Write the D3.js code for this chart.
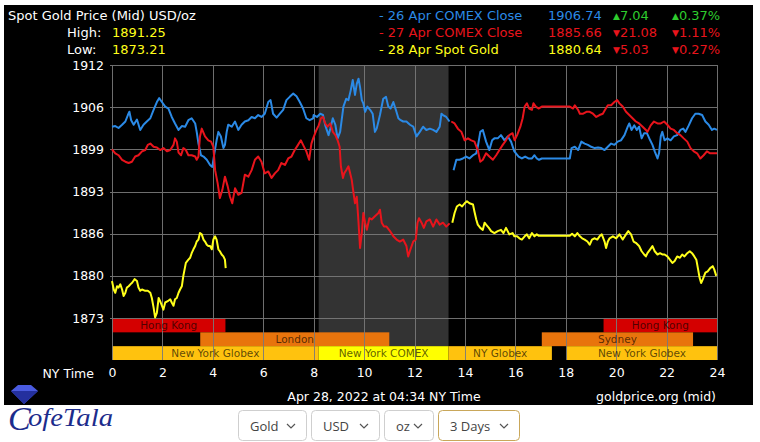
<!DOCTYPE html>
<html><head><meta charset="utf-8">
<script src="https://cdn.jsdelivr.net/npm/d3@7"></script>
<style>
body{margin:0;background:#fff;}
svg{display:block;font-family:"DejaVu Sans",Verdana,sans-serif;}
</style>
</head><body>
<svg id="c" width="760" height="442"></svg>
<script>
// ---------------- DATA ----------------
const yTickValues = [1873.21, 1879.71, 1886.21, 1892.71, 1899.21, 1905.71, 1912.21];
const xTickValues = [0, 2, 4, 6, 8, 10, 12, 14, 16, 18, 20, 22, 24];
const headerTitle = "Spot Gold Price (Mid) USD/oz";
const highLow = [["High:", "1891.25"], ["Low:", "1873.21"]];
const legendNames = ["- 26 Apr COMEX Close", "- 27 Apr COMEX Close", "- 28 Apr Spot Gold"];
const legendPrices = ["1906.74", "1885.66", "1880.64"];
const legendChanges = [["up", "7.04"], ["down", "21.08"], ["down", "5.03"]];
const legendPercents = [["up", "0.37%"], ["down", "1.11%"], ["down", "0.27%"]];
const timestampText = "Apr 28, 2022 at 04:34 NY Time";
const sourceText = "goldprice.org (mid)";
const selectLabels = ["Gold", "USD", "oz", "3 Days"];
const comexShade = [8.2, 13.35];
// [name, row, startHour, endHour]
const sessions = [
  ["Hong Kong", "hk", 0, 4.5], ["Hong Kong", "hk", 19.5, 24],
  ["London", "eu", 3.5, 11], ["Sydney", "eu", 17.05, 23.05],
  ["New York Globex", "ny", 0, 8.2], ["New York COMEX", "ny", 8.2, 13.35],
  ["NY Globex", "ny", 13.35, 17.45], ["New York Globex", "ny", 18.05, 24]
];
// series: [hour, price]
const blueA = [[0,1902.7],[0.13,1902.8],[0.26,1902.5],[0.40,1903.0],[0.53,1903.5],[0.63,1904.5],[0.69,1905.0],[0.76,1903.7],[0.86,1903.0],[0.99,1903.8],[1.12,1902.2],[1.25,1903.0],[1.38,1903.5],[1.52,1904.0],[1.65,1905.3],[1.78,1906.5],[1.87,1907.1],[1.98,1906.5],[2.11,1905.8],[2.24,1905.5],[2.37,1904.2],[2.50,1903.2],[2.64,1902.2],[2.77,1902.8],[2.90,1902.7],[3.03,1903.7],[3.16,1904.0],[3.30,1903.2],[3.36,1901.9],[3.43,1900.1],[3.53,1898.3],[3.63,1898.1],[3.76,1897.6],[3.89,1896.8],[3.98,1896.5],[4.06,1898.6],[4.15,1900.6],[4.22,1901.9],[4.32,1901.2],[4.42,1899.4],[4.48,1899.9],[4.55,1901.9],[4.61,1903.0],[4.75,1902.7],[4.88,1903.5],[5.01,1902.2],[5.14,1903.0],[5.27,1903.5],[5.41,1903.7],[5.54,1904.2],[5.67,1904.0],[5.80,1904.5],[5.93,1904.2],[6.06,1904.7],[6.20,1906.5],[6.29,1906.8],[6.39,1904.7],[6.53,1904.1],[6.66,1904.7],[6.79,1905.3],[6.92,1906.8],[7.05,1907.3],[7.19,1907.8],[7.32,1907.4],[7.45,1906.5],[7.58,1905.5],[7.71,1904.0],[7.84,1903.7],[7.98,1904.0],[8.00,1904.5],[8.13,1904.2],[8.26,1904.7],[8.37,1904.5],[8.46,1902.9],[8.59,1901.4],[8.66,1902.4],[8.76,1904.0],[8.86,1903.0],[8.95,1900.9],[9.05,1901.9],[9.18,1905.8],[9.29,1907.0],[9.38,1906.8],[9.47,1908.3],[9.55,1909.9],[9.64,1907.6],[9.71,1909.3],[9.78,1910.1],[9.84,1908.8],[9.91,1906.8],[9.97,1906.3],[10.04,1905.0],[10.13,1905.8],[10.24,1905.3],[10.34,1904.7],[10.43,1901.9],[10.50,1902.4],[10.63,1904.5],[10.76,1907.0],[10.87,1907.3],[10.96,1905.8],[11.05,1905.5],[11.16,1906.5],[11.26,1905.3],[11.36,1904.0],[11.45,1903.7],[11.55,1903.5],[11.68,1903.5],[11.82,1903.0],[11.95,1902.7],[12.08,1901.2],[12.21,1901.9],[12.34,1902.7],[12.47,1902.2],[12.61,1902.4],[12.74,1902.2],[12.87,1901.9],[13.00,1902.7],[13.07,1904.7],[13.13,1904.5],[13.26,1904.2],[13.39,1903.5]];
const blueB = [[13.55,1896.0],[13.66,1897.6],[13.79,1897.6],[13.92,1897.8],[14.05,1898.1],[14.18,1897.8],[14.32,1898.3],[14.45,1898.6],[14.51,1899.6],[14.61,1901.9],[14.71,1902.2],[14.84,1900.4],[14.97,1899.1],[15.08,1900.6],[15.17,1900.9],[15.30,1900.9],[15.43,1901.4],[15.57,1900.6],[15.70,1901.2],[15.83,1900.4],[15.96,1898.9],[16.13,1898.1],[16.26,1897.8],[16.39,1898.1],[16.52,1897.8],[16.66,1897.8],[16.76,1898.3],[16.85,1897.8],[16.94,1897.6],[17.05,1897.8],[17.18,1897.8],[17.70,1897.8],[18.16,1897.8],[18.23,1899.4],[18.36,1899.6],[18.49,1899.1],[18.62,1900.4],[18.75,1900.1],[18.88,1899.9],[19.01,1899.6],[19.15,1899.4],[19.28,1899.5],[19.41,1899.4],[19.54,1899.1],[19.67,1899.6],[19.80,1900.1],[19.93,1899.9],[20.06,1900.4],[20.19,1900.6],[20.33,1901.4],[20.46,1902.7],[20.52,1903.2],[20.61,1902.2],[20.72,1902.9],[20.82,1902.2],[20.91,1902.7],[21.01,1900.9],[21.11,1901.7],[21.22,1901.7],[21.35,1900.6],[21.44,1899.9],[21.53,1898.9],[21.64,1897.8],[21.70,1898.6],[21.77,1901.2],[21.83,1901.9],[21.92,1900.6],[22.03,1900.9],[22.16,1900.6],[22.29,1901.2],[22.42,1901.4],[22.55,1902.2],[22.66,1902.4],[22.75,1901.9],[22.88,1902.9],[23.01,1904.0],[23.14,1904.7],[23.27,1904.7],[23.41,1904.5],[23.54,1903.5],[23.67,1903.0],[23.80,1902.2],[23.89,1902.4],[24.0,1902.2]];
const redA = [[0,1899.2],[0.13,1898.6],[0.26,1898.3],[0.40,1897.6],[0.53,1897.3],[0.66,1897.1],[0.79,1897.3],[0.92,1898.1],[1.05,1898.3],[1.19,1898.9],[1.32,1899.1],[1.42,1899.9],[1.52,1900.1],[1.65,1899.6],[1.78,1899.5],[1.91,1899.1],[2.04,1899.4],[2.18,1898.9],[2.31,1899.1],[2.44,1899.9],[2.50,1900.9],[2.57,1900.4],[2.64,1898.7],[2.74,1898.3],[2.83,1899.4],[2.93,1899.1],[3.03,1898.3],[3.16,1898.3],[3.30,1898.1],[3.36,1897.6],[3.43,1898.1],[3.49,1901.2],[3.56,1902.4],[3.69,1901.2],[3.82,1900.6],[3.93,1900.4],[4.02,1899.6],[4.09,1896.0],[4.19,1894.0],[4.28,1891.7],[4.38,1893.0],[4.48,1895.0],[4.59,1893.5],[4.68,1891.9],[4.77,1890.9],[4.88,1893.2],[5.01,1892.2],[5.14,1892.5],[5.27,1895.3],[5.41,1895.0],[5.54,1896.0],[5.67,1897.6],[5.80,1898.1],[5.93,1897.3],[6.06,1895.5],[6.20,1895.8],[6.33,1894.8],[6.46,1895.5],[6.59,1896.0],[6.72,1897.1],[6.86,1896.8],[6.99,1897.8],[7.12,1898.1],[7.25,1899.1],[7.38,1899.9],[7.49,1900.6],[7.58,1899.9],[7.71,1898.9],[7.82,1897.6],[7.91,1900.1],[7.98,1900.9],[8.11,1902.2],[8.20,1902.9],[8.29,1904.0],[8.37,1904.2],[8.46,1903.2],[8.55,1902.7],[8.66,1903.2],[8.76,1901.9],[8.86,1901.4],[8.95,1900.6],[9.03,1899.6],[9.08,1896.6],[9.16,1894.8],[9.21,1895.5],[9.29,1896.0],[9.38,1896.6],[9.45,1895.5],[9.51,1894.5],[9.58,1892.5],[9.64,1890.9],[9.71,1891.9],[9.78,1887.9],[9.84,1884.0],[9.91,1886.3],[9.97,1889.4],[10.04,1887.9],[10.11,1886.8],[10.21,1888.6],[10.30,1888.4],[10.43,1888.9],[10.57,1889.4],[10.63,1889.9],[10.70,1887.9],[10.79,1887.3],[10.89,1887.3],[11.03,1886.6],[11.16,1885.8],[11.29,1885.3],[11.42,1885.0],[11.55,1885.3],[11.68,1884.3],[11.75,1882.7],[11.84,1883.8],[11.95,1885.0],[12.05,1885.3],[12.12,1887.9],[12.18,1888.6],[12.28,1887.9],[12.37,1887.1],[12.47,1888.1],[12.61,1888.4],[12.74,1887.3],[12.87,1888.4],[13.00,1887.6],[13.13,1887.9],[13.26,1887.3],[13.39,1887.8]];
const redB = [[13.46,1903.5],[13.59,1903.2],[13.72,1902.4],[13.86,1901.9],[13.99,1900.6],[14.12,1900.9],[14.25,1900.6],[14.38,1900.4],[14.51,1899.1],[14.61,1897.3],[14.71,1897.6],[14.84,1898.6],[14.97,1898.1],[15.11,1897.6],[15.24,1898.3],[15.37,1899.1],[15.50,1899.9],[15.63,1900.6],[15.76,1901.4],[15.89,1901.7],[15.97,1900.6],[16.07,1901.4],[16.20,1902.7],[16.29,1904.0],[16.37,1905.8],[16.46,1906.3],[16.55,1905.5],[16.66,1905.3],[16.72,1906.3],[16.81,1905.8],[16.92,1905.5],[17.05,1905.8],[17.44,1905.8],[17.97,1905.8],[18.16,1905.8],[18.29,1905.5],[18.36,1906.0],[18.49,1905.3],[18.56,1904.7],[18.69,1904.7],[18.82,1905.0],[18.95,1905.0],[19.08,1904.7],[19.21,1904.2],[19.34,1904.5],[19.47,1904.7],[19.56,1905.3],[19.67,1906.0],[19.80,1906.0],[19.93,1906.5],[20.04,1906.8],[20.13,1906.3],[20.26,1905.8],[20.39,1905.0],[20.52,1904.5],[20.65,1904.0],[20.78,1903.5],[20.91,1903.2],[21.05,1902.7],[21.18,1902.2],[21.24,1901.9],[21.37,1902.9],[21.50,1903.5],[21.64,1903.2],[21.77,1903.2],[21.90,1903.5],[22.03,1903.0],[22.16,1902.4],[22.29,1902.2],[22.42,1901.7],[22.55,1901.4],[22.68,1900.9],[22.82,1900.4],[22.95,1899.4],[23.08,1898.9],[23.21,1898.6],[23.34,1897.8],[23.47,1898.3],[23.60,1898.9],[23.73,1898.6],[23.86,1898.6],[24.0,1898.6]];
const yellowA = [[0,1878.9],[0.07,1877.6],[0.13,1877.1],[0.20,1878.1],[0.26,1877.9],[0.33,1878.4],[0.40,1877.6],[0.46,1876.6],[0.53,1877.1],[0.59,1877.9],[0.66,1878.1],[0.73,1878.4],[0.79,1878.6],[0.90,1879.2],[0.99,1878.9],[1.05,1877.9],[1.12,1877.4],[1.19,1877.6],[1.32,1877.4],[1.42,1877.4],[1.52,1877.1],[1.58,1876.3],[1.65,1874.8],[1.71,1873.3],[1.78,1874.0],[1.85,1876.3],[1.91,1875.8],[1.98,1875.1],[2.04,1874.5],[2.11,1875.6],[2.21,1875.8],[2.31,1876.1],[2.37,1875.6],[2.44,1875.1],[2.50,1876.1],[2.57,1876.3],[2.64,1877.1],[2.70,1877.6],[2.77,1878.1],[2.83,1879.7],[2.93,1881.7],[3.03,1882.2],[3.10,1882.5],[3.16,1883.2],[3.23,1883.8],[3.30,1884.3],[3.36,1885.0],[3.43,1885.3],[3.49,1886.3],[3.56,1886.1],[3.63,1885.3],[3.69,1885.0],[3.76,1884.5],[3.82,1884.3],[3.89,1884.3],[3.96,1883.8],[4.02,1885.3],[4.09,1885.8],[4.15,1885.3],[4.22,1883.8],[4.28,1883.5],[4.35,1883.0],[4.42,1882.7],[4.48,1882.2],[4.51,1880.9]];
const yellowB = [[13.50,1887.9],[13.59,1889.4],[13.68,1890.4],[13.79,1890.7],[13.89,1890.4],[13.99,1890.9],[14.08,1891.2],[14.18,1890.9],[14.32,1890.7],[14.38,1889.6],[14.45,1888.4],[14.51,1887.6],[14.61,1887.1],[14.71,1886.8],[14.78,1887.9],[14.84,1887.6],[14.95,1887.1],[15.04,1886.6],[15.17,1886.3],[15.30,1886.6],[15.43,1886.8],[15.53,1886.3],[15.63,1887.1],[15.76,1886.1],[15.89,1886.3],[15.96,1885.8],[16.07,1885.8],[16.16,1885.5],[16.26,1885.3],[16.37,1885.8],[16.46,1886.1],[16.55,1885.5],[16.66,1886.3],[16.76,1885.8],[16.85,1886.1],[16.92,1885.9],[17.18,1885.9],[17.70,1885.9],[18.16,1885.9],[18.25,1886.2],[18.36,1885.8],[18.46,1886.3],[18.56,1885.8],[18.65,1885.5],[18.75,1885.3],[18.86,1885.0],[18.95,1884.5],[19.04,1885.3],[19.15,1885.5],[19.25,1885.3],[19.34,1885.8],[19.43,1886.1],[19.54,1885.0],[19.60,1884.0],[19.67,1885.0],[19.74,1885.5],[19.87,1885.8],[20.00,1885.5],[20.13,1886.1],[20.26,1885.3],[20.39,1886.1],[20.48,1886.6],[20.59,1886.1],[20.69,1885.0],[20.78,1884.8],[20.91,1884.3],[21.01,1883.5],[21.11,1883.0],[21.18,1882.7],[21.24,1883.2],[21.35,1883.8],[21.44,1884.3],[21.53,1883.5],[21.64,1883.0],[21.74,1883.2],[21.83,1883.0],[21.92,1883.0],[22.03,1882.7],[22.13,1882.2],[22.23,1881.7],[22.32,1882.0],[22.42,1882.7],[22.53,1882.5],[22.62,1883.0],[22.71,1882.7],[22.82,1883.2],[22.92,1883.5],[23.01,1883.2],[23.10,1882.7],[23.18,1882.2],[23.25,1880.7],[23.31,1879.4],[23.37,1878.6],[23.44,1879.2],[23.54,1880.2],[23.63,1880.4],[23.73,1880.9],[23.83,1881.2],[23.89,1880.7],[23.97,1879.7]];

// ---------------- STYLE ----------------
const C = {blue:"#2b8ae6", red:"#e8141c", yellow:"#ffff1a", green:"#2ecc2e", grid:"#7a7a7a",
  hk:"#d40000", eu:"#e8740c", globex:"#ffc20e", comex:"#ffff00", shade:"#333333"};
const svg = d3.select("#c");
const x = d3.scaleLinear([0, 24], [112, 717]);
const y = d3.scaleLinear([yTickValues[0], yTickValues[6]], [318, 65]);
const rowBand = d3.scaleBand(["hk", "eu", "ny"], [318.5, 360]);

// background
svg.append("rect").attr("x", 4).attr("y", 5).attr("width", 749).attr("height", 400).attr("fill", "#000");

// comex shade
svg.append("rect").attr("x", x(comexShade[0])).attr("y", y(yTickValues[6]))
  .attr("width", x(comexShade[1]) - x(comexShade[0])).attr("height", rowBand("eu") + rowBand.bandwidth() - y(yTickValues[6]))
  .attr("fill", C.shade);

// session bars
const sessColor = s => s[1] === "hk" ? C.hk : s[1] === "eu" ? C.eu : (s[0] === "New York COMEX" ? C.comex : C.globex);
svg.append("g").selectAll("rect").data(sessions).join("rect")
  .attr("x", s => x(s[2])).attr("width", s => x(s[3]) - x(s[2]))
  .attr("y", s => rowBand(s[1])).attr("height", rowBand.bandwidth())
  .attr("fill", sessColor);

// grid
const grid = svg.append("g").attr("stroke", C.grid).attr("stroke-width", 1).attr("opacity", 0.9);
grid.selectAll("line.h").data(yTickValues).join("line")
  .attr("x1", x(0) - 2).attr("x2", x(24)).attr("y1", d => Math.round(y(d)) + 0.5).attr("y2", d => Math.round(y(d)) + 0.5);
grid.selectAll("line.v").data(xTickValues).join("line")
  .attr("y1", y(yTickValues[6])).attr("y2", 360).attr("x1", d => Math.round(x(d)) + 0.5).attr("x2", d => Math.round(x(d)) + 0.5);

// session labels
svg.append("g").selectAll("text").data(sessions).join("text")
  .attr("x", s => (x(s[2]) + x(s[3])) / 2).attr("y", s => rowBand(s[1]) + rowBand.bandwidth() / 2 + 3.8)
  .attr("text-anchor", "middle").attr("font-size", 10.5).attr("fill", "#000").attr("fill-opacity", 0.65)
  .text(s => s[0]);

// y axis
const yAxis = d3.axisLeft(y).tickValues(yTickValues).tickFormat(d => Math.round(d)).tickSize(0).tickPadding(8);
const gy = svg.append("g").attr("transform", `translate(${x(0)},0)`).call(yAxis);
gy.select(".domain").remove();
gy.selectAll("text").attr("fill", "#fff").attr("font-size", 12.5).attr("font-family", "DejaVu Sans");

// x axis
const xAxis = d3.axisBottom(x).tickValues(xTickValues).tickSize(0).tickPadding(0);
const gx = svg.append("g").attr("transform", `translate(0,368)`).call(xAxis);
gx.select(".domain").remove();
gx.selectAll("text").attr("fill", "#fff").attr("font-size", 12.5).attr("font-family", "DejaVu Sans");
svg.append("text").attr("x", 94).attr("y", 378).attr("text-anchor", "end").attr("fill", "#fff").attr("font-size", 12.5).text("NY Time");

// lines
const line = d3.line().x(d => x(d[0])).y(d => y(d[1]));
const series = [[blueA, C.blue], [blueB, C.blue], [redA, C.red], [redB, C.red], [yellowA, C.yellow], [yellowB, C.yellow]];
svg.append("g").selectAll("path").data(series).join("path")
  .attr("d", s => line(s[0])).attr("fill", "none").attr("stroke", s => s[1])
  .attr("stroke-width", 2).attr("stroke-linejoin", "round");

// header left
const hdr = svg.append("g").attr("font-size", 13);
hdr.append("text").attr("x", 8).attr("y", 19.5).attr("fill", "#fff").text(headerTitle);
highLow.forEach((r, i) => {
  hdr.append("text").attr("x", 67).attr("y", 36.5 + i * 17).attr("fill", "#fff").text(r[0]);
  hdr.append("text").attr("x", 112).attr("y", 36.5 + i * 17).attr("fill", C.yellow).text(r[1]);
});
// header right legend
const lgColors = [C.blue, C.red, C.yellow];
legendNames.forEach((n, i) => {
  const yy = 19.5 + i * 17;
  hdr.append("text").attr("x", 379).attr("y", yy).attr("fill", lgColors[i]).text(n);
  hdr.append("text").attr("x", 548).attr("y", yy).attr("fill", lgColors[i]).text(legendPrices[i]);
  [[legendChanges[i], 613], [legendPercents[i], 672]].forEach(([c, xx]) => {
    const col = c[0] === "up" ? C.green : C.red;
    const t = hdr.append("text").attr("x", xx).attr("y", yy).attr("fill", col);
    t.append("tspan").attr("font-size", 9).attr("dy", -1).text(c[0] === "up" ? "▲" : "▼");
    t.append("tspan").attr("dy", 1).text(c[1]);
  });
});

// footer in black
svg.append("text").attr("x", 384).attr("y", 401).attr("text-anchor", "middle").attr("fill", "#fff").attr("font-size", 12.5).text(timestampText);
svg.append("text").attr("x", 716).attr("y", 401).attr("text-anchor", "end").attr("fill", "#fff").attr("font-size", 12.5).text(sourceText);

// logo
const logo = svg.append("g");
logo.append("polygon").attr("points", "11,391 18,385 31,385 38,391 24,404").attr("fill", "#4a5be0");
logo.append("polygon").attr("points", "11,391 38,391 24,404").attr("fill", "#24309e");
logo.append("text").attr("x", 8).attr("y", 430).attr("font-family", "Liberation Serif").attr("font-style", "italic")
  .attr("font-size", 34).attr("fill", "#1c2c8c").text("C");
logo.append("text").attr("x", 28).attr("y", 426).attr("font-family", "Liberation Serif").attr("font-style", "italic")
  .attr("font-size", 25).attr("fill", "#1c2c8c").attr("textLength", 85).attr("lengthAdjust", "spacingAndGlyphs").text("ofeTala");

// select boxes
const boxW = [69, 69, 50, 82];
let bx = 238;
selectLabels.forEach((lab, i) => {
  const g = svg.append("g").attr("transform", `translate(${bx},410)`);
  g.append("rect").attr("x", 0.5).attr("y", 0.5).attr("width", boxW[i] - 1).attr("height", 30).attr("rx", 4)
    .attr("fill", "#fff").attr("stroke", i === 3 ? "#c9a75a" : "#cfcfcf");
  g.append("text").attr("x", 12).attr("y", 21).attr("font-family", "Open Sans").attr("font-size", 13).attr("fill", "#444").text(lab);
  g.append("path").attr("d", `M${boxW[i]-20},14 l4,4 l4,-4`).attr("fill", "none").attr("stroke", "#555").attr("stroke-width", 1.2);
  bx += boxW[i] + 4;
});
</script>
</body></html>
